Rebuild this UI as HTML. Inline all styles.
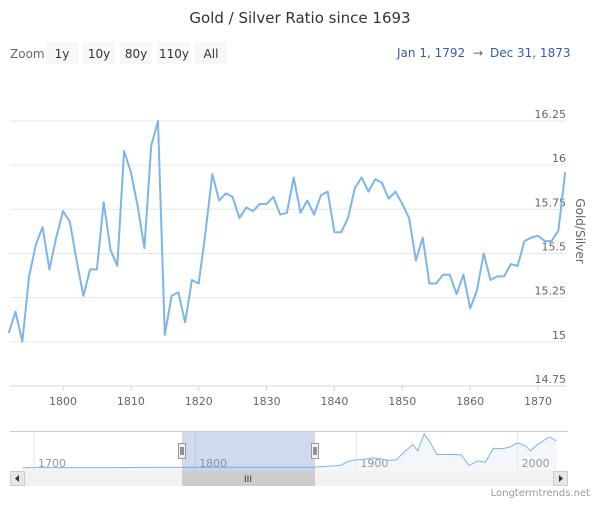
<!DOCTYPE html>
<html><head><meta charset="utf-8">
<style>
body{margin:0;background:#fff;font-family:"Liberation Sans","DejaVu Sans",sans-serif;}
svg text{font-family:"DejaVu Sans","Liberation Sans",sans-serif;}
</style></head>
<body>
<svg id="chart" width="600" height="500" viewBox="0 0 600 500" xmlns="http://www.w3.org/2000/svg">
<text x="300" y="23" text-anchor="middle" font-size="15" fill="#333">Gold / Silver Ratio since 1693</text>
<text x="10" y="58" font-size="12" fill="#666">Zoom</text>
<g><rect x="46" y="42" width="32" height="22" fill="#f7f7f7"/><text x="62" y="58" text-anchor="middle" font-size="12" fill="#333">1y</text></g>
<g><rect x="83" y="42" width="32" height="22" fill="#f7f7f7"/><text x="99" y="58" text-anchor="middle" font-size="12" fill="#333">10y</text></g>
<g><rect x="120" y="42" width="32" height="22" fill="#f7f7f7"/><text x="136" y="58" text-anchor="middle" font-size="12" fill="#333">80y</text></g>
<g><rect x="157" y="42" width="33" height="22" fill="#f7f7f7"/><text x="174" y="58" text-anchor="middle" font-size="12" fill="#333">110y</text></g>
<g><rect x="195" y="42" width="32" height="22" fill="#f7f7f7"/><text x="211" y="58" text-anchor="middle" font-size="12" fill="#333">All</text></g>
<text x="397" y="57" font-size="12" fill="#335cad">Jan 1, 1792</text>
<text x="473" y="57" font-size="12" fill="#666">→</text>
<text x="490" y="57" font-size="12" fill="#335cad">Dec 31, 1873</text>
<g id="grid"></g>
<g id="yticks"></g>
<g id="xticks"></g>
<line x1="10" y1="386" x2="566" y2="386" stroke="#ccd6eb"/>
<path id="series" fill="none" stroke="#7cb5ec" stroke-width="2" stroke-linejoin="round"/>
<text x="0" y="0" transform="translate(576,231) rotate(90)" text-anchor="middle" font-size="12" fill="#666">Gold/Silver</text>
<g>
<line x1="10" y1="431.5" x2="568" y2="431.5" stroke="#cccccc"/>
<path id="navarea" fill="#f3f7fc" stroke="none"/>
<g id="navgrid"></g>
<path id="navline" fill="none" stroke="#7cb5ec" stroke-width="1"/>
<rect x="182" y="432" width="133" height="39" fill="rgba(102,133,194,0.3)"/>
<g><rect x="178.5" y="443.5" width="7" height="15" fill="#f2f2f2" stroke="#999"/><line x1="181" y1="447" x2="181" y2="455" stroke="#333"/><line x1="183" y1="447" x2="183" y2="455" stroke="#333"/></g>
<g><rect x="311.5" y="443.5" width="7" height="15" fill="#f2f2f2" stroke="#999"/><line x1="314" y1="447" x2="314" y2="455" stroke="#333"/><line x1="316" y1="447" x2="316" y2="455" stroke="#333"/></g>
</g>
<g>
<rect x="10" y="471" width="558" height="15" fill="#f2f2f2"/>
<rect x="182" y="471" width="133" height="15" fill="#cccccc"/>
<text x="248" y="482" text-anchor="middle" font-size="9" fill="#333">III</text>
<g><rect x="10.5" y="471.5" width="14" height="14" fill="#e6e6e6" stroke="#ccc"/><path d="M19,475 L15,478.5 L19,482Z" fill="#333"/></g>
<g><rect x="553.5" y="471.5" width="14" height="14" fill="#e6e6e6" stroke="#ccc"/><path d="M559,475 L563,478.5 L559,482Z" fill="#333"/></g>
</g>
<text x="590" y="496" text-anchor="end" font-size="10" fill="#999">Longtermtrends.net</text>
</svg>
<script>
const years = [];
for (let y = 1792; y <= 1874; y++) years.push(y);
const ratios = [15.05,15.17,15.00,15.37,15.55,15.65,15.41,15.59,15.74,15.68,15.46,15.26,15.41,15.41,15.79,15.52,15.43,16.08,15.96,15.77,15.53,16.11,16.25,15.04,15.26,15.28,15.11,15.35,15.33,15.62,15.95,15.80,15.84,15.82,15.70,15.76,15.74,15.78,15.78,15.82,15.72,15.73,15.93,15.73,15.80,15.72,15.83,15.85,15.62,15.62,15.70,15.87,15.93,15.85,15.92,15.90,15.81,15.85,15.78,15.70,15.46,15.59,15.33,15.33,15.38,15.38,15.27,15.38,15.19,15.29,15.50,15.35,15.37,15.37,15.44,15.43,15.57,15.59,15.60,15.57,15.57,15.63,15.96];
const yTicks = [14.75,15,15.25,15.5,15.75,16,16.25];
const xTicks = [1800,1810,1820,1830,1840,1850,1860,1870];
const navYears = [1693,1750,1800,1850,1873,1880,1890,1895,1900,1905,1910,1915,1920,1925,1930,1932,1935,1938,1940,1942,1945,1950,1960,1965,1970,1975,1980,1985,1990,1993,1995,2000,2003,2005,2008,2010,2013,2015,2018,2020,2024];
const navValues = [14.9,15.0,15.6,15.7,15.9,17.5,20,30,33.8,35,38.2,36,32,34,53.6,60,70,55,75,95,80,46.3,46.5,45,20,31,27.5,61,60,62,64,74,70,66,55,62,72,76,85,88,78];
const navTicks = [1700,1800,1900,2000];

const NS = "http://www.w3.org/2000/svg";
const X = y => 63 + (y - 1800) * 6.786;
const Y = v => 386 - (v - 14.75) * 176.7;
const NX = y => 34 + (y - 1700) * 1.612;
const NY = v => 468 - (v - 14) / (100 - 14) * 36;

const grid = document.getElementById('grid');
const yt = document.getElementById('yticks');
yTicks.forEach(v => {
  if (v !== 14.75) {
    const l = document.createElementNS(NS, 'line');
    l.setAttribute('x1', 10); l.setAttribute('x2', 566);
    l.setAttribute('y1', Y(v)); l.setAttribute('y2', Y(v));
    l.setAttribute('stroke', '#e6e6e6');
    
    
    grid.appendChild(l);
  }
  const t = document.createElementNS(NS, 'text');
  t.setAttribute('x', 566); t.setAttribute('y', Y(v) - 3);
  t.setAttribute('text-anchor', 'end'); t.setAttribute('font-size', '11'); t.setAttribute('fill', '#666');
  t.textContent = String(v);
  
  
  yt.appendChild(t);
});
const xt = document.getElementById('xticks');
xTicks.forEach(v => {
  const l = document.createElementNS(NS, 'line');
  l.setAttribute('x1', X(v)); l.setAttribute('x2', X(v));
  l.setAttribute('y1', 386); l.setAttribute('y2', 391);
  l.setAttribute('stroke', '#ccd6eb');
  
  
  xt.appendChild(l);
  const t = document.createElementNS(NS, 'text');
  t.setAttribute('x', X(v)); t.setAttribute('y', 405);
  t.setAttribute('text-anchor', 'middle'); t.setAttribute('font-size', '11'); t.setAttribute('fill', '#666');
  t.textContent = String(v);
  
  
  xt.appendChild(t);
});
document.getElementById('series').setAttribute('d',
  ratios.map((v, i) => (i ? 'L' : 'M') + X(years[i]).toFixed(1) + ',' + Y(v).toFixed(1)).join(' '));

const ng = document.getElementById('navgrid');
navTicks.forEach(v => {
  const l = document.createElementNS(NS, 'line');
  l.setAttribute('x1', NX(v)); l.setAttribute('x2', NX(v));
  l.setAttribute('y1', 432); l.setAttribute('y2', 471);
  l.setAttribute('stroke', '#e6e6e6');
  
  
  ng.appendChild(l);
  const t = document.createElementNS(NS, 'text');
  t.setAttribute('x', NX(v) + 4); t.setAttribute('y', 467);
  t.setAttribute('font-size', '11'); t.setAttribute('fill', '#999');
  t.textContent = String(v);
  
  
  ng.appendChild(t);
});
const nl = navValues.map((v, i) => (i ? 'L' : 'M') + NX(navYears[i]).toFixed(1) + ',' + NY(v).toFixed(1)).join(' ');
document.getElementById('navline').setAttribute('d', nl);
document.getElementById('navarea').setAttribute('d', nl + ' L' + NX(navYears[navYears.length-1]).toFixed(1) + ',471 L' + NX(navYears[0]).toFixed(1) + ',471 Z');
</script>
</body></html>
